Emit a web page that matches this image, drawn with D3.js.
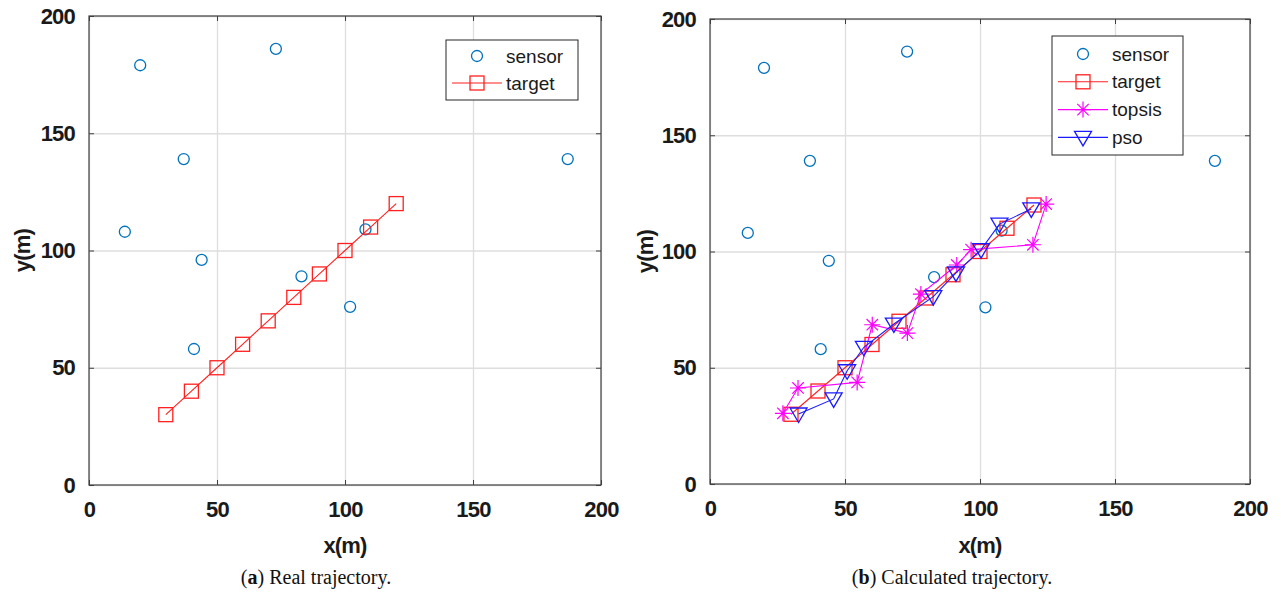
<!DOCTYPE html>
<html><head><meta charset="utf-8">
<script src="https://cdn.jsdelivr.net/npm/d3@7"></script>
<style>body{margin:0;background:#fff}</style>
</head><body>
<svg id="c" width="1281" height="592" xmlns="http://www.w3.org/2000/svg"></svg>
<script>
// ---- data ----
const sensorX = [14, 20, 37, 41, 44, 73, 83, 102, 108, 187];
const sensorY = [108, 179, 139, 58, 96, 186, 89, 76, 109, 139];
const targetX = [30, 40, 50, 60, 70, 80, 90, 100, 110, 120];
const targetY = [30, 40, 50, 60, 70, 80, 90, 100, 110, 120];
const topsisX = [27.0, 32.6, 54.5, 60.1, 73.1, 78.1, 91.4, 96.7, 119.6, 124.5];
const topsisY = [30.4, 41.3, 43.7, 68.5, 64.9, 81.7, 94.2, 100.8, 102.9, 120.4];
const psoX = [32.8, 45.8, 50.8, 57.0, 68.1, 82.7, 91.1, 100.4, 107.2, 119.0];
const psoY = [30.1, 36.6, 48.7, 58.8, 68.8, 80.6, 90.8, 100.8, 111.8, 118.3];
const xTicks = [0, 50, 100, 150, 200];
const yTicks = [0, 50, 100, 150, 200];
const seriesNames = ["sensor", "target", "topsis", "pso"];
const captionLetters = ["a", "b"];
const captionTexts = [" Real trajectory.", " Calculated trajectory."];
const xLabel = "x(m)";
const yLabel = "y(m)";

const svg = d3.select("#c");
const zip = (a, b) => a.map((v, i) => [v, b[i]]);

const styles = {
  sensor: {color: "#0072BD", marker: "circle", line: false},
  target: {color: "#ff2020", marker: "square", line: true},
  topsis: {color: "#ff00ff", marker: "asterisk", line: true},
  pso: {color: "#1a1aff", marker: "tridown", line: true}
};
const seriesData = {
  sensor: zip(sensorX, sensorY),
  target: zip(targetX, targetY),
  topsis: zip(topsisX, topsisY),
  pso: zip(psoX, psoY)
};

function drawMarker(g, type, color) {
  if (type === "circle") {
    g.append("circle").attr("r", 5.5).attr("fill", "none").attr("stroke", color).attr("stroke-width", 1.3);
  } else if (type === "square") {
    g.append("rect").attr("x", -7).attr("y", -7).attr("width", 14).attr("height", 14)
      .attr("fill", "none").attr("stroke", color).attr("stroke-width", 1.3);
  } else if (type === "asterisk") {
    const r = 8, d = 5.7;
    g.append("path").attr("d", `M${-r},0L${r},0M0,${-r}L0,${r}M${-d},${-d}L${d},${d}M${-d},${d}L${d},${-d}`)
      .attr("stroke", color).attr("stroke-width", 1.2).attr("fill", "none");
  } else if (type === "tridown") {
    g.append("path").attr("d", "M-8.5,-6L8.5,-6L0,8.5Z").attr("fill", "none")
      .attr("stroke", color).attr("stroke-width", 1.3);
  }
}

function panel(opts) {
  const {x0, x1, y0, y1, series, legend, capX, capIdx, ylabX} = opts;
  const x = d3.scaleLinear().domain([0, 200]).range([x0, x1]);
  const y = d3.scaleLinear().domain([0, 200]).range([y1, y0]);
  const g = svg.append("g");
  const w = x1 - x0, h = y1 - y0;

  // grid
  g.append("g").attr("transform", `translate(0,${y1})`)
    .call(d3.axisBottom(x).tickValues(xTicks).tickSize(-h).tickFormat(""))
    .call(s => s.select(".domain").remove())
    .call(s => s.selectAll("line").attr("stroke", "#dedede").attr("stroke-width", 1.3));
  g.append("g").attr("transform", `translate(${x0},0)`)
    .call(d3.axisLeft(y).tickValues(yTicks).tickSize(-w).tickFormat(""))
    .call(s => s.select(".domain").remove())
    .call(s => s.selectAll("line").attr("stroke", "#dedede").attr("stroke-width", 1.3));

  const tickFont = s => s.selectAll("text").attr("font-family", "'Liberation Sans', Arial, sans-serif")
    .attr("font-size", 22).attr("font-weight", "bold").attr("fill", "#1a1a1a").attr("letter-spacing", "-0.8px");
  const axStyle = s => { s.select(".domain").remove(); s.selectAll("line").attr("stroke", "#404040"); };

  g.append("g").attr("transform", `translate(0,${y1})`)
    .call(d3.axisBottom(x).tickValues(xTicks).tickSizeInner(-5).tickSizeOuter(0).tickPadding(16))
    .call(axStyle).call(tickFont);
  g.append("g").attr("transform", `translate(0,${y0})`)
    .call(d3.axisTop(x).tickValues(xTicks).tickSizeInner(-5).tickSizeOuter(0).tickFormat(""))
    .call(axStyle);
  g.append("g").attr("transform", `translate(${x0},0)`)
    .call(d3.axisLeft(y).tickValues(yTicks).tickSizeInner(-5).tickSizeOuter(0).tickPadding(14))
    .call(axStyle).call(tickFont);
  g.append("g").attr("transform", `translate(${x1},0)`)
    .call(d3.axisRight(y).tickValues(yTicks).tickSizeInner(-5).tickSizeOuter(0).tickFormat(""))
    .call(axStyle);

  g.append("rect").attr("x", x0).attr("y", y0).attr("width", w).attr("height", h)
    .attr("fill", "none").attr("stroke", "#404040").attr("stroke-width", 1.2);

  // data
  const line = d3.line().x(d => x(d[0])).y(d => y(d[1]));
  series.forEach(name => {
    const st = styles[name], data = seriesData[name];
    if (st.line) {
      g.append("path").datum(data).attr("d", line).attr("fill", "none")
        .attr("stroke", st.color).attr("stroke-width", 1.1);
    }
    data.forEach(d => {
      const m = g.append("g").attr("transform", `translate(${x(d[0])},${y(d[1])})`);
      drawMarker(m, st.marker, st.color);
    });
  });

  // labels
  g.append("text").attr("x", (x0 + x1) / 2).attr("y", 553).attr("text-anchor", "middle")
    .attr("font-family", "'Liberation Sans', Arial, sans-serif").attr("font-size", 22)
    .attr("font-weight", "bold").attr("fill", "#1a1a1a").attr("letter-spacing", "-0.8px").text(xLabel);
  g.append("text").attr("transform", `translate(${ylabX},${(y0 + y1) / 2}) rotate(-90)`)
    .attr("text-anchor", "middle").attr("dy", "0.35em")
    .attr("font-family", "'Liberation Sans', Arial, sans-serif").attr("font-size", 22)
    .attr("font-weight", "bold").attr("fill", "#1a1a1a").attr("letter-spacing", "-0.8px").text(yLabel);

  const cap = g.append("text").attr("x", capX).attr("y", 584).attr("text-anchor", "middle")
    .attr("font-family", "'Liberation Serif', 'Times New Roman', serif").attr("font-size", 20).attr("fill", "#111");
  cap.append("tspan").text("(");
  cap.append("tspan").attr("font-weight", "bold").text(captionLetters[capIdx]);
  cap.append("tspan").text(")" + captionTexts[capIdx]);

  // legend
  const L = legend;
  const lg = g.append("g");
  lg.append("rect").attr("x", L.x).attr("y", L.y).attr("width", L.w).attr("height", L.h)
    .attr("fill", "#fff").attr("stroke", "#262626").attr("stroke-width", 1);
  series.forEach((name, i) => {
    const st = styles[name];
    const cy = L.y + L.row0 + i * L.rowH;
    if (st.line) {
      lg.append("line").attr("x1", L.x + 6).attr("x2", L.x + 56).attr("y1", cy).attr("y2", cy)
        .attr("stroke", st.color).attr("stroke-width", 1.1);
    }
    const m = lg.append("g").attr("transform", `translate(${L.x + 31},${cy})`);
    drawMarker(m, st.marker, st.color);
    lg.append("text").attr("x", L.x + 60).attr("y", cy).attr("dy", "0.35em")
      .attr("font-family", "'Liberation Sans', Arial, sans-serif").attr("font-size", 19)
      .attr("fill", "#1a1a1a").text(name);
  });
}

panel({x0: 89, x1: 601, y0: 16, y1: 485, series: seriesNames.slice(0, 2),
  legend: {x: 446, y: 40, w: 132, h: 60, row0: 16, rowH: 27}, capX: 316, capIdx: 0, ylabX: 22});
panel({x0: 710, x1: 1250, y0: 19, y1: 484, series: seriesNames,
  legend: {x: 1052, y: 36, w: 131, h: 119, row0: 18, rowH: 27.8}, capX: 952, capIdx: 1, ylabX: 645});
</script>
</body></html>
